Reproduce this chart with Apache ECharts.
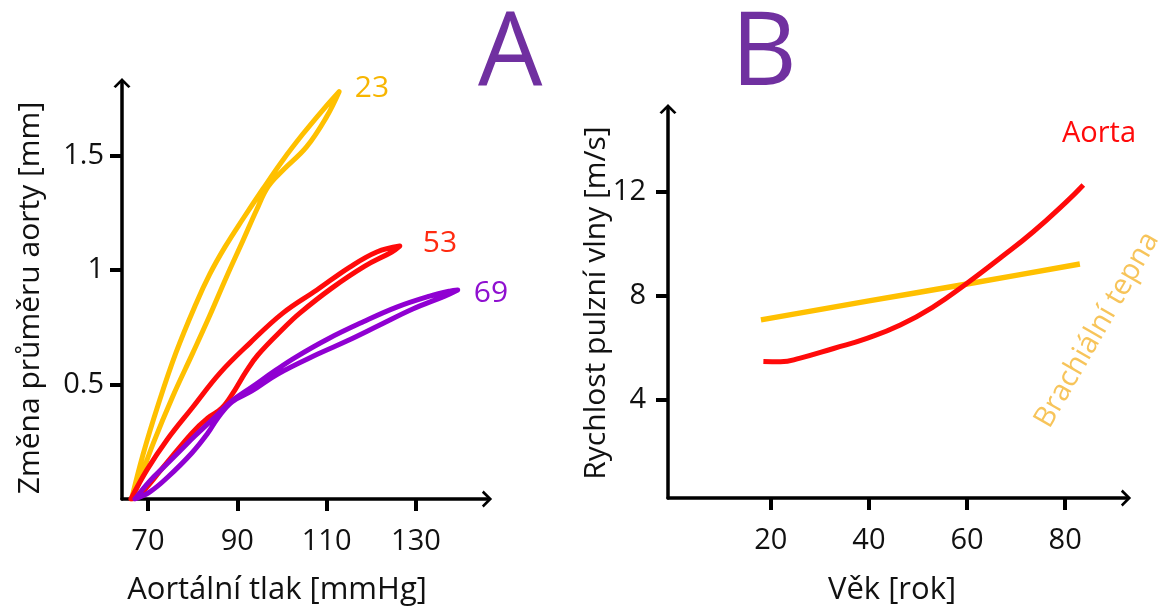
<!DOCTYPE html>
<html>
<head>
<meta charset="utf-8">
<script src="https://cdn.jsdelivr.net/npm/echarts@6/dist/echarts.min.js"></script>
<style>
html,body{margin:0;padding:0;background:#fff;}
#chart{width:1160px;height:608px;}
</style>
</head>
<body>
<div id="chart"></div>
<script>
// ---- Panel A: aortic diameter change vs. aortic pressure (hysteresis loops by age) ----
const pressureTicks = [70, 90, 110, 130];
const diameterTicks = [0.5, 1, 1.5];
const loopAges = ['23', '53', '69'];
const loop23 = [
  [66.35,0],[68.88,0.192],[72.24,0.408],[76.26,0.638],[80.74,0.852],[83.87,0.983],[87.23,1.100],
  [91.25,1.223],[95.73,1.354],[100.2,1.480],[104.68,1.594],[109.15,1.699],[112.8,1.779],
  [109.98,1.669],[105.5,1.538],[100.27,1.437],[96.9,1.364],[94.32,1.262],[91.33,1.131],[87.61,0.971],
  [83.72,0.796],[80.0,0.636],[75.53,0.447],[71.19,0.243],[67.32,0.039],[66.35,0]
];
const loop53 = [
  [66.2,0],[69.78,0.127],[74.25,0.258],[80.07,0.402],[86.11,0.550],[92.82,0.681],[100.2,0.812],
  [107.81,0.913],[115.19,1.013],[121.23,1.079],[126.38,1.105],
  [124.59,1.079],[118.55,1.017],[111.16,0.921],[104.0,0.812],[100.65,0.751],[94.61,0.629],
  [91.92,0.555],[89.46,0.476],[86.55,0.397],[83.42,0.354],[79.84,0.288],[73.8,0.148],[67.76,0.009],[66.2,0]
];
const loop69 = [
  [67.09,0],[70.45,0.079],[73.8,0.144],[77.16,0.210],[80.51,0.275],[84.32,0.345],[88.79,0.428],
  [93.27,0.489],[98.64,0.563],[103.11,0.620],[110.27,0.699],[118.1,0.773],[125.7,0.838],
  [133.09,0.886],[137.56,0.908],[139.35,0.913],
  [136.44,0.886],[129.28,0.830],[121.9,0.760],[114.52,0.690],[108.03,0.633],[99.08,0.546],
  [93.27,0.472],[88.79,0.424],[85.66,0.354],[83.42,0.288],[79.84,0.201],[74.47,0.096],[70.45,0.031],[67.09,0]
];

// ---- Panel B: pulse wave velocity vs. age ----
const ageTicks = [20, 40, 60, 80];
const velocityTicks = [4, 8, 12];
const aortaAge = [18.5, 22.0, 26.0, 32.8, 39.6, 46.4, 53.2, 60.0, 66.7, 73.5, 80.3, 83.7];
const aortaPwv = [5.48, 5.47, 5.61, 5.98, 6.37, 6.88, 7.59, 8.49, 9.45, 10.47, 11.63, 12.27];
const brachialAge = [18, 40, 60, 83];
const brachialPwv = [7.08, 7.81, 8.46, 9.23];

const FONT = '"Open Sans", "DejaVu Sans", sans-serif';
const ORANGE = '#FFC000', RED = '#FF0A0A', PURPLE = '#9000D2';
const arrowPath = 'path://M0,10 L10,0 L20,10 L17.5,12 L10,4.5 L2.5,12 Z';

function axisCommon(ticks, labelMargin) {
  return {
    type: 'value',
    splitLine: {show: false},
    axisLine: {show: true, onZero: false, lineStyle: {color: '#000', width: 3.5},
      symbol: ['none', arrowPath], symbolSize: [17, 13]},
    axisTick: {show: true, length: 12, lineStyle: {color: '#000', width: 4}, customValues: ticks},
    axisLabel: {show: true, customValues: ticks, color: '#111', fontFamily: FONT, fontSize: 29, margin: labelMargin}
  };
}

const chart = echarts.init(document.getElementById('chart'), null, {renderer: 'canvas'});
const pairs = (xs, ys) => xs.map((x, i) => [x, ys[i]]);

const loopSeries = (name, data, color, z) => ({
  name: name, type: 'line', xAxisIndex: 0, yAxisIndex: 0, data: data, smooth: 0.4,
  showSymbol: false, symbol: 'none', lineStyle: {color: color, width: 5, join: 'round', cap: 'round'}, z: z
});

const option = {
  backgroundColor: '#fff',
  animation: false,
  grid: [
    {left: 122, top: 83, width: 365, height: 416, containLabel: false, outerBoundsMode: 'none'},
    {left: 668, top: 109, width: 458, height: 389, containLabel: false, outerBoundsMode: 'none'}
  ],
  xAxis: [
    Object.assign(axisCommon(pressureTicks, 28), {gridIndex: 0, min: 64.2, max: 145.9}),
    Object.assign(axisCommon(ageTicks, 28), {gridIndex: 1, min: -0.94, max: 92.4})
  ],
  yAxis: [
    Object.assign(axisCommon(diameterTicks, 18), {gridIndex: 0, min: 0, max: 1.817}),
    Object.assign(axisCommon(velocityTicks, 22), {gridIndex: 1, min: 0.23, max: 15.19})
  ],
  series: [
    loopSeries(loopAges[0], loop23, ORANGE, 3),
    loopSeries(loopAges[1], loop53, RED, 3),
    loopSeries(loopAges[2], loop69, PURPLE, 4),
    {name: 'Brachiální tepna', type: 'line', xAxisIndex: 1, yAxisIndex: 1, data: pairs(brachialAge, brachialPwv),
      smooth: 0.3, showSymbol: false, symbol: 'none', lineStyle: {color: ORANGE, width: 5.5}, z: 3},
    {name: 'Aorta', type: 'line', xAxisIndex: 1, yAxisIndex: 1, data: pairs(aortaAge, aortaPwv),
      smooth: 0.5, showSymbol: false, symbol: 'none', lineStyle: {color: RED, width: 5}, z: 4}
  ],
  graphic: [
    {type: 'text', left: 478, top: 5, style: {text: 'A', fill: '#7030A0', font: '102px ' + FONT}},
    {type: 'text', left: 731, top: 5, style: {text: 'B', fill: '#7030A0', font: '102px ' + FONT}},
    {type: 'text', x: 372, y: 88, style: {text: loopAges[0], fill: '#F7B500', font: '30px ' + FONT, align: 'center', verticalAlign: 'middle'}},
    {type: 'text', x: 440, y: 243, style: {text: loopAges[1], fill: '#FF2A10', font: '30px ' + FONT, align: 'center', verticalAlign: 'middle'}},
    {type: 'text', x: 491, y: 293, style: {text: loopAges[2], fill: '#8F10D0', font: '30px ' + FONT, align: 'center', verticalAlign: 'middle'}},
    {type: 'text', x: 277, y: 590, style: {text: 'Aortální tlak [mmHg]', fill: '#111', font: '31px ' + FONT, align: 'center', verticalAlign: 'middle'}},
    {type: 'text', x: 30, y: 298, rotation: Math.PI / 2, style: {text: 'Změna průměru aorty [mm]', fill: '#111', font: '30px ' + FONT, align: 'center', verticalAlign: 'middle'}},
    {type: 'text', x: 892, y: 590, style: {text: 'Věk [rok]', fill: '#111', font: '31px ' + FONT, align: 'center', verticalAlign: 'middle'}},
    {type: 'text', x: 596, y: 303, rotation: Math.PI / 2, style: {text: 'Rychlost pulzní vlny [m/s]', fill: '#111', font: '30px ' + FONT, align: 'center', verticalAlign: 'middle'}},
    {type: 'text', x: 1099, y: 134, style: {text: 'Aorta', fill: '#FF0A0A', font: '29px ' + FONT, align: 'center', verticalAlign: 'middle'}},
    {type: 'text', x: 1097, y: 330, rotation: Math.PI / 3, style: {text: 'Brachiální tepna', fill: '#F7C45A', font: '29px ' + FONT, align: 'center', verticalAlign: 'middle'}}
  ]
};
chart.setOption(option);
</script>
</body>
</html>
